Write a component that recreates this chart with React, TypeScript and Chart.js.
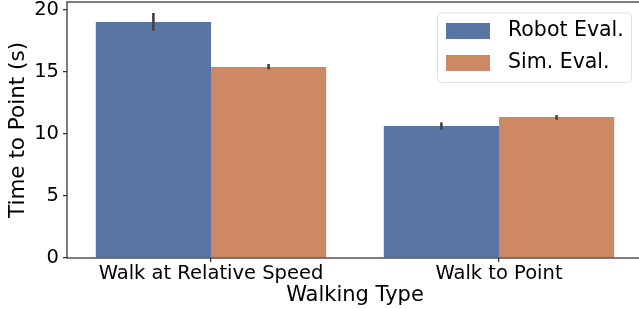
import React, { useEffect, useRef } from 'react';
import { Chart, registerables } from 'chart.js';

Chart.register(...registerables);

const categories = ['Walk at Relative Speed', 'Walk to Point'];
const seriesNames = ['Robot Eval.', 'Sim. Eval.'];
const robotMeans = [19.03, 10.65];
const robotLow = [18.33, 10.35];
const robotHigh = [19.76, 10.94];
const simMeans = [15.4, 11.37];
const simLow = [15.22, 11.15];
const simHigh = [15.65, 11.53];
const yTicks = [0, 5, 10, 15, 20];
const yMax = 20.65;
const xTitle = 'Walking Type';
const yTitle = 'Time to Point (s)';

const FONT = "'DejaVu Sans', sans-serif";
const TEXT = '#000000';
const SPINE = '#303030';
const COLORS = ['#5875a4', '#cc8963'];

const errorBarPlugin = {
  id: 'errorBars',
  afterDatasetsDraw(chart: any) {
    const ctx = chart.ctx;
    const ys = chart.scales.y;
    ctx.save();
    ctx.strokeStyle = '#424242';
    ctx.lineWidth = 2.6;
    ctx.lineCap = 'butt';
    chart.data.datasets.forEach((ds: any, i: number) => {
      const meta = chart.getDatasetMeta(i);
      meta.data.forEach((bar: any, j: number) => {
        const y1 = ys.getPixelForValue(ds.errLow[j]);
        const y2 = ys.getPixelForValue(ds.errHigh[j]);
        ctx.beginPath();
        ctx.moveTo(bar.x, y1);
        ctx.lineTo(bar.x, y2);
        ctx.stroke();
      });
    });
    ctx.restore();
  },
};

const framePlugin = {
  id: 'frame',
  afterDatasetsDraw(chart: any) {
    const { ctx, chartArea } = chart;
    ctx.save();
    ctx.strokeStyle = SPINE;
    ctx.lineWidth = 1.25;
    ctx.strokeRect(chartArea.left, chartArea.top, chartArea.right - chartArea.left, chartArea.bottom - chartArea.top);
    ctx.restore();
  },
};

function roundRect(ctx: CanvasRenderingContext2D, x: number, y: number, w: number, h: number, r: number) {
  ctx.beginPath();
  ctx.moveTo(x + r, y);
  ctx.lineTo(x + w - r, y);
  ctx.quadraticCurveTo(x + w, y, x + w, y + r);
  ctx.lineTo(x + w, y + h - r);
  ctx.quadraticCurveTo(x + w, y + h, x + w - r, y + h);
  ctx.lineTo(x + r, y + h);
  ctx.quadraticCurveTo(x, y + h, x, y + h - r);
  ctx.lineTo(x, y + r);
  ctx.quadraticCurveTo(x, y, x + r, y);
  ctx.closePath();
}

const legendPlugin = {
  id: 'boxLegend',
  afterDraw(chart: any) {
    const ctx = chart.ctx;
    const bx = 437.5, by = 13, bw = 194, bh = 69.5;
    ctx.save();
    roundRect(ctx, bx, by, bw, bh, 4);
    ctx.fillStyle = 'rgba(255,255,255,0.8)';
    ctx.fill();
    ctx.strokeStyle = 'rgba(215,215,215,0.8)';
    ctx.lineWidth = 1;
    ctx.stroke();
    ctx.font = `20.5px ${FONT}`;
    ctx.textBaseline = 'middle';
    ctx.textAlign = 'left';
    chart.data.datasets.forEach((ds: any, i: number) => {
      const cy = 31 + i * 32;
      ctx.fillStyle = ds.backgroundColor;
      ctx.fillRect(446, cy - 8, 44, 16);
      ctx.fillStyle = TEXT;
      ctx.fillText(ds.label, 508, cy);
    });
    ctx.restore();
  },
};

export default function App() {
  const ref = useRef<HTMLCanvasElement | null>(null);

  useEffect(() => {
    if (!ref.current) return;
    const chart = new Chart(ref.current, {
      type: 'bar',
      data: {
        labels: categories,
        datasets: [
          {
            label: seriesNames[0],
            data: robotMeans,
            backgroundColor: COLORS[0],
            errLow: robotLow,
            errHigh: robotHigh,
            categoryPercentage: 0.8,
            barPercentage: 1.0,
          } as any,
          {
            label: seriesNames[1],
            data: simMeans,
            backgroundColor: COLORS[1],
            errLow: simLow,
            errHigh: simHigh,
            categoryPercentage: 0.8,
            barPercentage: 1.0,
          } as any,
        ],
      },
      options: {
        responsive: false,
        animation: false,
        devicePixelRatio: 1,
        layout: { padding: { top: 2, right: 2, left: 0, bottom: 0 } },
        plugins: {
          legend: { display: false },
          tooltip: { enabled: false },
        },
        scales: {
          x: {
            offset: true,
            grid: {
              offset: false,
              drawOnChartArea: false,
              drawTicks: true,
              tickLength: 4,
              color: SPINE,
              lineWidth: 1.25,
            },
            border: { display: false },
            ticks: {
              color: TEXT,
              font: { family: FONT, size: 19.5 },
              padding: 0,
              maxRotation: 0,
              autoSkip: false,
            },
            title: {
              display: true,
              text: xTitle,
              color: TEXT,
              font: { family: FONT, size: 21 },
              padding: { top: 0, bottom: 0.5 },
            },
            afterFit(scale: any) {
              scale.height = 51;
              scale.paddingLeft = 0;
              scale.paddingRight = 0;
            },
          },
          y: {
            min: 0,
            max: yMax,
            grid: {
              drawOnChartArea: false,
              drawTicks: true,
              tickLength: 4,
              color: SPINE,
              lineWidth: 1.25,
            },
            border: { display: false },
            ticks: {
              stepSize: 5,
              includeBounds: false,
              color: TEXT,
              font: { family: FONT, size: 19.5 },
              padding: 4,
              callback: (v: any) => String(v),
            },
            afterBuildTicks(scale: any) {
              scale.ticks = yTicks.map((v) => ({ value: v }));
            },
            title: {
              display: true,
              text: yTitle,
              color: TEXT,
              font: { family: FONT, size: 21.5 },
              padding: { top: 5.6, bottom: 0 },
            },
            afterFit(scale: any) {
              scale.width = 67;
              scale.paddingTop = 0;
              scale.paddingBottom = 0;
            },
          },
        },
      } as any,
      plugins: [errorBarPlugin, framePlugin, legendPlugin],
    });
    return () => chart.destroy();
  }, []);

  return (
    <div style={{ position: 'fixed', left: 0, top: 0, width: 639, height: 309, overflow: 'hidden', background: '#fff' }}>
      <canvas ref={ref} width={645} height={309} style={{ display: 'block', width: 645, height: 309 }} />
    </div>
  );
}
